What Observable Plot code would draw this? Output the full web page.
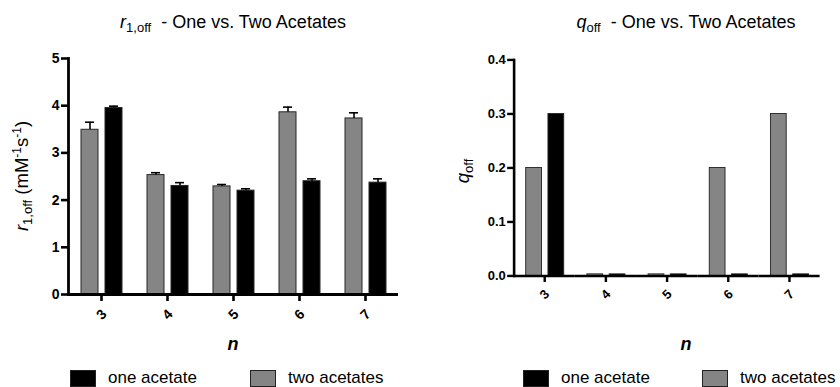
<!DOCTYPE html>
<html>
<head>
<meta charset="utf-8">
<script src="https://cdn.jsdelivr.net/npm/d3@7"></script>
<script src="https://cdn.jsdelivr.net/npm/@observablehq/plot@0.6"></script>
<style>
  html, body { margin: 0; padding: 0; background: #fff; }
  body { width: 840px; height: 387px; overflow: hidden; position: relative; font-family: "Liberation Sans", Arial, sans-serif; color: #000; }
  .panel { position: absolute; top: 0; height: 387px; }
  .title { position: absolute; top: 12px; font-size: 18px; white-space: nowrap; transform: translateX(-50%); }
  .title sub { font-size: 13px; vertical-align: -4px; }
  .ylab { position: absolute; font-size: 18.5px; white-space: nowrap; transform: translate(-50%, -50%) rotate(-90deg); }
  .ylab sub { font-size: 13px; vertical-align: -4px; }
  .ylab sup { font-size: 12px; vertical-align: 7px; }
  .xlab { position: absolute; top: 334px; font-size: 18px; font-weight: bold; font-style: italic; transform: translateX(-50%); }
  .plot { position: absolute; top: 40px; }
  .leg { position: absolute; top: 369px; height: 18px; line-height: 18px; font-size: 17px; white-space: nowrap; display: flex; align-items: center; }
  .sw { display: inline-block; width: 26px; height: 17px; box-sizing: border-box; border: 1px solid #222; margin-right: 12px; }
  svg [aria-label="frame"], svg [aria-label="rule"] { stroke-width: 2.8px; }
  svg [aria-label="y-axis tick"], svg [aria-label="fx-axis tick"] { stroke-width: 2.6px; }
</style>
</head>
<body>
<script>
// ---- data ----
const nValues = [3, 4, 5, 6, 7];
const seriesNames = ["two acetates", "one acetate"];
const seriesColors = ["#858585", "#000000"];

const r1Two = [3.49, 2.53, 2.29, 3.86, 3.73];
const r1TwoErr = [0.16, 0.05, 0.04, 0.11, 0.12];
const r1One = [3.95, 2.30, 2.20, 2.40, 2.37];
const r1OneErr = [0.04, 0.07, 0.04, 0.05, 0.08];

const qTwo = [0.2, 0.003, 0.003, 0.2, 0.3];
const qOne = [0.3, 0.003, 0.003, 0.003, 0.003];

const r1Ticks = [0, 1, 2, 3, 4, 5];
const qTicks = [0, 0.1, 0.2, 0.3, 0.4];

function rows(two, one, twoErr, oneErr) {
  const out = [];
  nValues.forEach((n, i) => {
    out.push({n, series: seriesNames[0], value: two[i], top: two[i] + (twoErr ? twoErr[i] : 0)});
    out.push({n, series: seriesNames[1], value: one[i], top: one[i] + (oneErr ? oneErr[i] : 0)});
  });
  return out;
}

const r1Data = rows(r1Two, r1One, r1TwoErr, r1OneErr);
const qData = rows(qTwo, qOne, null, null);

function makePlot({data, marginLeft, marginTop, yDomain, yTicks, tickFormat, errors}) {
  const marks = [
    Plot.barY(data, {fx: "n", x: "series", y: "value", fill: "series", stroke: "#262626", strokeWidth: 1})
  ];
  if (errors) {
    marks.push(Plot.ruleX(data, {fx: "n", x: "series", y1: "value", y2: "top", stroke: "#000", strokeWidth: 1.6, ariaLabel: "errbar"}));
    marks.push(Plot.tickY(data, {fx: "n", x: "series", y: "top", stroke: "#000", strokeWidth: 1.6, insetLeft: 4, insetRight: 4}));
  }
  marks.push(Plot.ruleY([0], {stroke: "#000", strokeWidth: 2.8}));
  marks.push(Plot.frame({anchor: "left", facetAnchor: "left", stroke: "#000", strokeWidth: 2.8}));
  marks.push(Plot.axisY({ticks: yTicks, tickFormat, tickSize: 7, tickPadding: 2, stroke: "#000", strokeWidth: 2.6, label: null}));
  marks.push(Plot.axisFx({anchor: "bottom", tickSize: 7, tickPadding: 13, tickRotate: -45, textAnchor: "middle", lineAnchor: "middle", stroke: "#000", strokeWidth: 2.6, label: null}));
  return Plot.plot({
    width: marginLeft + 330 + 22,
    height: 290,
    marginLeft,
    marginRight: 22,
    marginTop,
    marginBottom: 36,
    style: {fontFamily: "Liberation Sans, Arial, sans-serif", fontSize: "14px", fontWeight: "bold", color: "#000", background: "transparent", overflow: "visible"},
    fx: {domain: nValues, padding: 0},
    x: {domain: seriesNames, paddingInner: 0.3, paddingOuter: 0.48, axis: null},
    y: {domain: yDomain},
    color: {domain: seriesNames, range: seriesColors},
    marks
  });
}

function panel(left, html, plotEl) {
  const div = document.createElement("div");
  div.className = "panel";
  div.style.left = left + "px";
  div.style.width = (840 - left) + "px";
  div.innerHTML = html;
  plotEl.classList.add("plot");
  plotEl.style.left = "0px";
  div.appendChild(plotEl);
  document.body.appendChild(div);
}

const leftPlot = makePlot({data: r1Data, marginLeft: 68, marginTop: 18, yDomain: [0, 5], yTicks: r1Ticks, tickFormat: d => String(d), errors: true});
panel(0, `
  <div class="title" style="left:233px"><i>r</i><sub>1,off</sub>&nbsp; - One vs. Two Acetates</div>
  <div class="ylab" style="left:22px; top:176px"><i>r</i><sub>1,off</sub> (mM<sup>-1</sup>s<sup>-1</sup>)</div>
  <div class="xlab" style="left:233px">n</div>
  <div class="leg" style="left:70px"><span class="sw" style="background:${seriesColors[1]}"></span>one acetate</div>
  <div class="leg" style="left:250px"><span class="sw" style="background:${seriesColors[0]}"></span>two acetates</div>
`, leftPlot);

const rightPlot = makePlot({data: qData, marginLeft: 101, marginTop: 21, yDomain: [0, 0.4], yTicks: qTicks, tickFormat: d3.format(".1f"), errors: false});
panel(420, `
  <div class="title" style="left:266px"><i>q</i><sub>off</sub>&nbsp; - One vs. Two Acetates</div>
  <div class="ylab" style="left:44px; top:171px"><i>q</i><sub>off</sub></div>
  <div class="xlab" style="left:266px">n</div>
  <div class="leg" style="left:103px"><span class="sw" style="background:${seriesColors[1]}"></span>one acetate</div>
  <div class="leg" style="left:282px"><span class="sw" style="background:${seriesColors[0]}"></span>two acetates</div>
`, rightPlot);
</script>
</body>
</html>
